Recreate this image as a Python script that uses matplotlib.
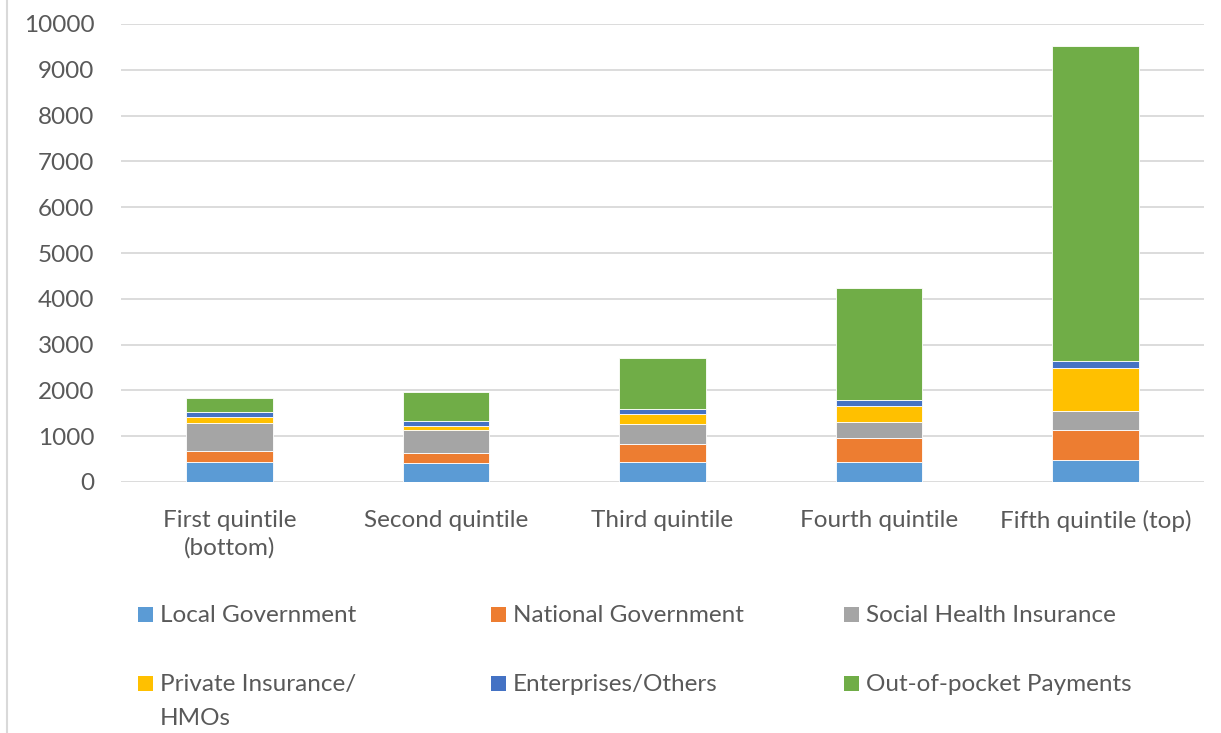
import matplotlib
matplotlib.use("Agg")
import matplotlib.pyplot as plt
from matplotlib.patches import Rectangle
from matplotlib.lines import Line2D
import numpy as np

plt.rcParams['font.family'] = ['Lato', 'DejaVu Sans']

# values
quintiles = ["First quintile\n(bottom)", "Second quintile", "Third quintile",
             "Fourth quintile", "Fifth quintile (top)"]
local_gov = [443, 408, 443, 443, 480]
national_gov = [234, 232, 393, 525, 649]
social_health = [604, 495, 437, 349, 415]
private_ins = [145, 88, 219, 349, 938]
enterprises = [96, 109, 102, 118, 167]
out_of_pocket = [305, 633, 1120, 2446, 6881]

series_names = ["Local Government", "National Government", "Social Health Insurance",
                "Private Insurance/\nHMOs", "Enterprises/Others", "Out-of-pocket Payments"]
series_vals = [local_gov, national_gov, social_health, private_ins, enterprises, out_of_pocket]
colors = ["#5B9BD5", "#ED7D31", "#A5A5A5", "#FFC000", "#4472C4", "#70AD47"]
yticks = [0, 1000, 2000, 3000, 4000, 5000, 6000, 7000, 8000, 9000, 10000]

W, H = 1221, 733
text_color = "#595959"
grid_color = "#d9d9d9"
fs = 17.5

fig = plt.figure(figsize=(W / 100, H / 100), dpi=100)
ax = fig.add_axes([121 / W, 1 - 482 / H, (1204 - 121) / W, (482 - 24) / H])

x = np.arange(len(quintiles))
bottom = np.zeros(len(quintiles))
for name, vals, c in zip(series_names, series_vals, colors):
    ax.bar(x, vals, width=0.4, bottom=bottom, color=c, edgecolor="white",
           linewidth=0.6, zorder=3)
    bottom += np.array(vals)

ax.set_xlim(-0.5, 4.5)
ax.set_ylim(0, 10000)
ax.set_yticks(yticks)
ax.set_yticklabels([str(v) for v in yticks])
ax.set_xticks(x)
ax.set_xticklabels(quintiles, linespacing=1.35)
ax.yaxis.grid(True, color=grid_color, linewidth=1.3, zorder=0)
for s in ax.spines.values():
    s.set_visible(False)
ax.tick_params(axis="both", length=0, labelsize=fs, colors=text_color)
ax.tick_params(axis="y", pad=19)
ax.tick_params(axis="x", pad=20)

# chart border on the left
fig.add_artist(Line2D([7 / W, 7 / W], [0, 1], color=grid_color, linewidth=1.5))

# legend laid out like the Excel one: 3 columns, 2 rows
col_x = [138, 491, 844]
row_base = [622, 691]
line_gap = 34
sq = 15
for i, (name, c) in enumerate(zip(series_names, colors)):
    cx = col_x[i % 3]
    by = row_base[i // 3]
    fig.add_artist(Rectangle((cx / W, 1 - by / H), sq / W, sq / H,
                             facecolor=c, edgecolor="none",
                             transform=fig.transFigure))
    for k, line in enumerate(name.split("\n")):
        fig.text((cx + 22) / W, 1 - (by + k * line_gap) / H, line, fontsize=fs,
                 color=text_color, va="baseline", ha="left")

fig.savefig("out.png", dpi=100)
